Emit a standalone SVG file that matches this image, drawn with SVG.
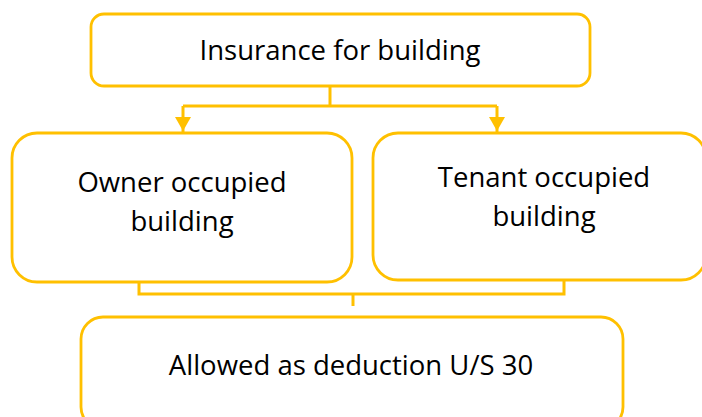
<svg xmlns="http://www.w3.org/2000/svg" width="702" height="417" viewBox="0 0 702 417">
<style>
.box{fill:#fff;stroke:#FFC000;stroke-width:2.8}
.ln{fill:none;stroke:#FFC000;stroke-width:3}
.t{font-family:"Open Sans","Noto Sans",sans-serif;font-size:27.5px;fill:#000;text-anchor:middle}
</style>
<defs>
<marker id="ah" markerUnits="userSpaceOnUse" markerWidth="16" markerHeight="16" viewBox="0 0 16 16" refX="16" refY="8" orient="auto">
<path d="M0,0 L14,8 L0,16 Z" fill="#FFC000"/>
</marker>
</defs>
<rect width="702" height="417" fill="#fff"/>
<g id="connectors">
<path class="ln" d="M330,86 V106"/>
<path class="ln" d="M183,106 H497"/>
<path class="ln" d="M183,106 V133" marker-end="url(#ah)"/>
<path class="ln" d="M497,106 V133" marker-end="url(#ah)"/>
<path class="ln" d="M139,282 V294 H564 V280"/>
<path class="ln" d="M353,294 V306"/>
</g>
<g id="insurance">
<rect class="box" x="91" y="14" width="499" height="72" rx="13"/>
<text class="t" x="340" y="60">Insurance for building</text>
</g>
<g id="owner">
<rect class="box" x="12" y="133" width="340" height="149" rx="25"/>
<text class="t" x="182" y="192">Owner occupied</text>
<text class="t" x="182" y="231">building</text>
</g>
<g id="tenant">
<rect class="box" x="373" y="133" width="333" height="147" rx="25"/>
<text class="t" x="544" y="187">Tenant occupied</text>
<text class="t" x="544" y="226">building</text>
</g>
<g id="allowed">
<rect class="box" x="81" y="317" width="542" height="112" rx="22"/>
<text class="t" x="351" y="375">Allowed as deduction U/S 30</text>
</g>
</svg>
